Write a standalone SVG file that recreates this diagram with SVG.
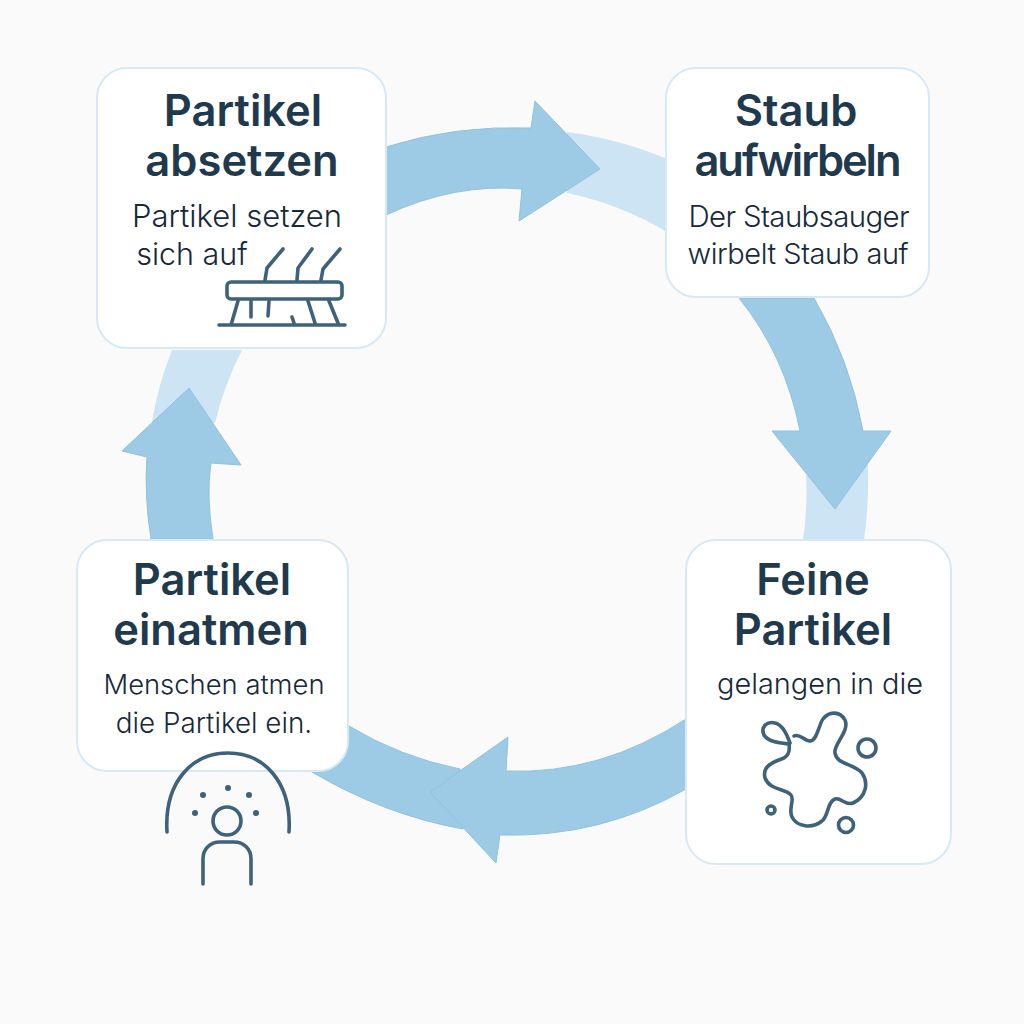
<svg xmlns="http://www.w3.org/2000/svg" width="1024" height="1024" viewBox="0 0 1024 1024">
<style>
.card{fill:#fff;stroke:#d8e9f6;stroke-width:2}
.arrow{fill:#9dcae5;stroke:#8fc2e1;stroke-width:1;stroke-linejoin:round}
.band{fill:#cde4f4}
.t{font-family:Inter,"Liberation Sans",sans-serif;font-weight:600;font-size:43.5px;fill:#1f3a4d;text-anchor:middle}
.b{font-family:Inter,"Liberation Sans",sans-serif;font-weight:300;font-size:28px;fill:#16293a;text-anchor:middle}
.i{fill:none;stroke:#3e6279;stroke-width:3.6;stroke-linecap:round;stroke-linejoin:round}
.d{fill:#3e6279}
</style>
<rect width="1024" height="1024" fill="#fafafa"/>
<g id="connectors">
<path class="band" d="M567 132Q620 139 667 159L667 232Q620 204 567 193Z"/>
<path class="band" d="M806 475L868 465Q869 505 864 540L803 540Q808 505 806 475Z"/>
<path class="band" d="M172 350L242 350Q224 385 215 423L152 422Q158 385 172 350Z"/>
<path class="arrow" d="M386 147Q455 125 531 128L535 101L600 169L519 221L522 189Q455 183 386 215Z"/>
<path class="arrow" d="M739 298L814 298Q850 360 863 431L891 431L835 509L772 431L800 431Q785 355 739 298Z"/>
<path class="arrow" d="M349 726Q400 757 460 769L463 829Q385 815 312 772Z"/>
<path class="arrow" d="M686 719Q600 775 506 771L508 737L430 792L496 863L500 835Q600 838 686 789Z"/>
<path class="arrow" d="M151 539Q144 495 147 457L122 451L189 388L241 465L211 463Q206 495 213 539Z"/>
</g>
<g id="node-partikel-absetzen">
<rect class="card" x="97" y="68" width="289" height="280" rx="30"/>
<text class="t" x="243" y="126">Partikel</text>
<text class="t" x="242" y="176">absetzen</text>
<text class="b" x="237" y="227" style="font-size:31px">Partikel setzen</text>
<text class="b" x="192" y="265" style="font-size:30.5px">sich auf</text>
<g class="i">
<rect x="227" y="282" width="115" height="17" rx="4"/>
<path d="M219 325H345M238 301L231 325M251 301V317M269 301L268 316M308 301L315 323M329 301L338 323M292 317L294 323"/>
<path d="M265 280L267 268L283 249M297 280L298 268L312 249M321 280L323 269L340 249"/>
</g>
</g>
<g id="node-staub-aufwirbeln">
<rect class="card" x="666" y="68" width="263" height="229" rx="30"/>
<text class="t" x="796" y="126">Staub</text>
<text class="t" x="798" y="176" textLength="207" lengthAdjust="spacing">aufwirbeln</text>
<text class="b" x="799" y="227" style="font-size:29.4px" textLength="221">Der Staubsauger</text>
<text class="b" x="798" y="264" style="font-size:29px" textLength="221">wirbelt Staub auf</text>
</g>
<g id="node-feine-partikel">
<rect class="card" x="686" y="540" width="265" height="324" rx="30"/>
<text class="t" x="813" y="595">Feine</text>
<text class="t" x="813" y="645">Partikel</text>
<text class="b" x="820" y="694" style="font-size:28.9px">gelangen in die</text>
<g class="i">
<path d="M794 736C800 733 804 741 810 741C817 741 819 724 823 719C829 711 840 711 845 720C850 731 833 745 835 753C837 765 853 763 862 773C869 783 866 797 853 803C845 806 841 797 835 799C827 802 829 815 822 821C812 829 797 827 792 817C788 808 795 800 791 795C786 788 770 791 765 778C762 766 773 762 784 758C789 755 790 750 789 744C780 743 768 742 764 735C760 726 768 721 775 723C783 725 787 735 790 743"/>
<circle cx="867" cy="748" r="9"/><circle cx="771" cy="810" r="4"/><circle cx="846" cy="825" r="7.5"/>
</g>
</g>
<g id="node-partikel-einatmen">
<rect class="card" x="77" y="540" width="271" height="231" rx="30"/>
<text class="t" x="212" y="595">Partikel</text>
<text class="t" x="211" y="645">einatmen</text>
<text class="b" x="214" y="694" style="font-size:27.4px">Menschen atmen</text>
<text class="b" x="214" y="733" style="font-size:27.8px">die Partikel ein.</text>
<g class="i">
<path d="M167 832C164 782 192 753 228 753C264 753 292 782 289 832"/>
<circle cx="227" cy="821" r="14"/>
<path d="M203 884V859C203 849 210 842 220 842H234C244 842 251 849 251 859V884"/>
</g>
<g class="d"><circle cx="195" cy="813" r="3"/><circle cx="203" cy="795" r="3"/><circle cx="228" cy="788" r="3"/><circle cx="249" cy="795" r="3"/><circle cx="256" cy="813" r="3"/></g>
</g>
</svg>
